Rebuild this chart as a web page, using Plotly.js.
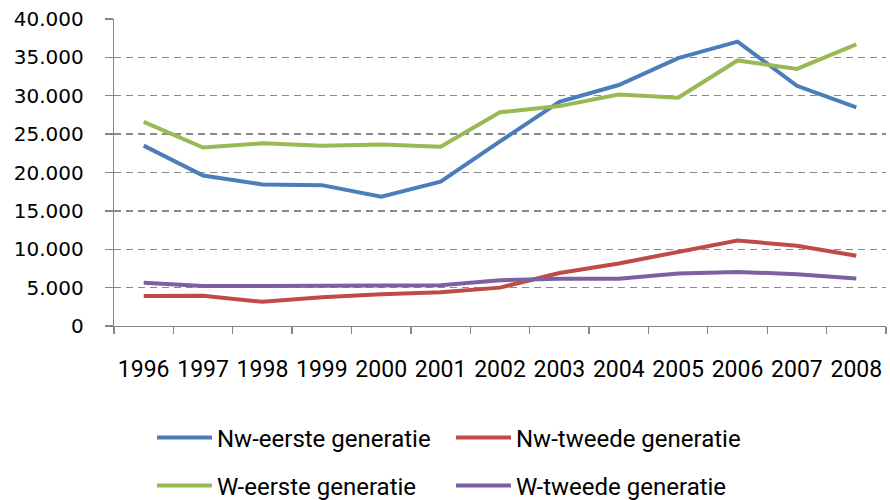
<!DOCTYPE html>
<html><head><meta charset="utf-8">
<script src="https://cdn.plot.ly/plotly-3.0.1.min.js"></script>
<style>html,body{margin:0;padding:0;background:#fff}</style>
</head><body><div id="chart" style="width:890px;height:500px"></div>
<script>
const years = ['1996','1997','1998','1999','2000','2001','2002','2003','2004','2005','2006','2007','2008'];
const nwEerste = [23500,19600,18450,18350,16850,18800,24050,29200,31400,34900,37050,31300,28500];
const nwTweede = [3900,3950,3150,3750,4150,4400,5000,6900,8150,9650,11150,10450,9150];
const wEerste  = [26600,23250,23800,23500,23650,23350,27850,28650,30150,29750,34600,33500,36700];
const wTweede  = [5650,5200,5200,5200,5200,5300,5950,6150,6150,6850,7050,6750,6200];
const seriesNames = ['Nw-eerste generatie','Nw-tweede generatie','W-eerste generatie','W-tweede generatie'];
const seriesColors = ['#4A7EBB','#BE4B48','#98B954','#7D60A0'];
const yTickVals = [0,5000,10000,15000,20000,25000,30000,35000,40000];

const allSeries = [nwEerste, nwTweede, wEerste, wTweede];
const legendIds = ['legend','legend2','legend3','legend4'];
const traces = allSeries.map((vals, i) => ({
  type: 'scatter', mode: 'lines', x: years, y: vals, name: seriesNames[i],
  line: {color: seriesColors[i], width: 4, shape: 'linear'},
  legend: legendIds[i], hoverinfo: 'skip'
}));

const legendFont = {family: 'Roboto, sans-serif', size: 24, color: '#000'};
function leg(xpx, ypx) {
  return {xref: 'container', yref: 'container', x: xpx/890, y: 1 - ypx/500,
    xanchor: 'left', yanchor: 'middle', orientation: 'h', font: legendFont,
    itemwidth: 55, bgcolor: 'rgba(0,0,0,0)', borderwidth: 0, tracegroupgap: 0};
}

const layout = {
  width: 890, height: 500,
  margin: {l: 114, r: 4, t: 19, b: 174, pad: 0},
  paper_bgcolor: '#fff', plot_bgcolor: '#fff',
  separators: ',.',
  showlegend: true,
  xaxis: {
    type: 'category', range: [-0.5, years.length - 0.5], autorange: false,
    showgrid: false, zeroline: false,
    showline: true, linecolor: '#868686', linewidth: 1.3,
    ticks: 'outside', tickson: 'boundaries', ticklen: 7, tickcolor: '#868686', tickwidth: 1.3,
    tickangle: 0,
    tickfont: {family: 'Roboto, sans-serif', size: 23, color: '#000'},
    ticklabelstandoff: 22, fixedrange: true
  },
  yaxis: {
    range: [0, 40000], tickvals: yTickVals, tickformat: ',d',
    showgrid: true, gridcolor: '#8a8a8a', gridwidth: 1.3, griddash: '7px,5px',
    zeroline: false, showline: true, linecolor: '#868686', linewidth: 1.3,
    ticks: 'outside', ticklen: 8, tickcolor: '#868686', tickwidth: 1.3,
    tickfont: {family: 'DejaVu Sans, sans-serif', size: 20, color: '#000'},
    ticklabelstandoff: 17, fixedrange: true
  },
  legend: leg(152, 438),
  legend2: leg(451, 438),
  legend3: leg(152, 486),
  legend4: leg(451, 486)
};

Plotly.newPlot('chart', traces, layout, {displayModeBar: false, staticPlot: true});
</script></body></html>
